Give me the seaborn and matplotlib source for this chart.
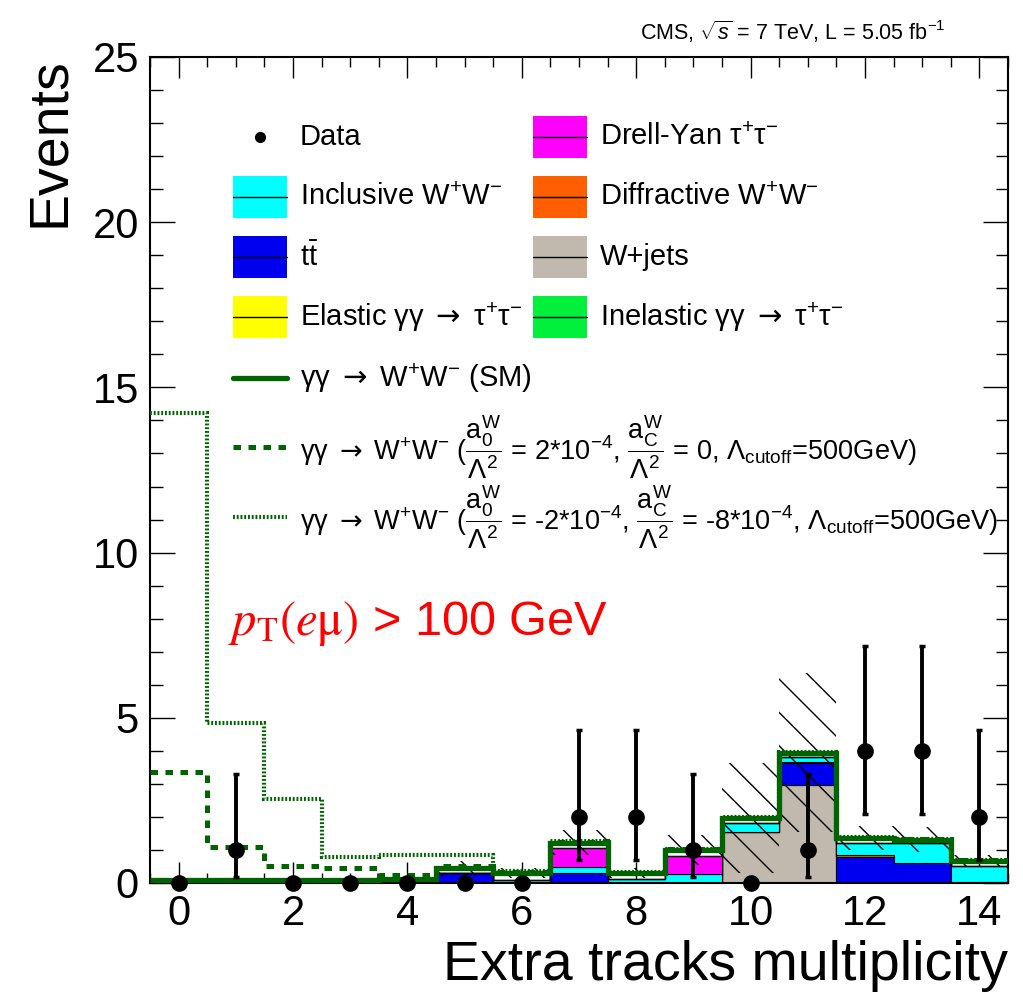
import numpy as np
import pandas as pd
import matplotlib
matplotlib.use("Agg")
import matplotlib.pyplot as plt
from matplotlib.patches import Rectangle
from matplotlib.lines import Line2D
from matplotlib.ticker import MultipleLocator
import seaborn as sns

# ------------------------------------------------------------------
# Extra-track multiplicity, e-mu channel with pT(e mu) > 100 GeV
# ------------------------------------------------------------------
ntrk = np.arange(15)
bin_edges = [x - 0.5 for x in range(16)]

# observed events and their 68% Poisson intervals
data_counts = [0, 1, 0, 0, 0, 0, 0, 2, 2, 1, 0, 1, 4, 4, 2]
data_low = [0, 0.17, 0, 0, 0, 0, 0, 0.71, 0.71, 0.17, 0, 0.17, 2.09, 2.09, 0.71]
data_high = [0, 3.30, 0, 0, 0, 0, 0, 4.64, 4.64, 3.30, 0, 3.30, 7.16, 7.16, 4.64]

# background expectations per bin
wjets = [0, 0, 0, 0, 0, 0, 0, 0, 0, 0, 1.55, 2.96, 0, 0, 0]
ttbar = [0, 0, 0, 0, 0, 0.31, 0, 0.29, 0, 0, 0, 0.66, 0.78, 0.60, 0.02]
diffractive_ww = [0, 0, 0, 0, 0, 0, 0, 0, 0, 0, 0, 0.04, 0.06, 0, 0]
inclusive_ww = [0, 0, 0, 0, 0, 0, 0.10, 0.18, 0.12, 0.27, 0.28, 0.14, 0.38, 0.60, 0.49]
drell_yan_tautau = [0, 0, 0, 0, 0, 0, 0, 0.58, 0, 0.55, 0, 0, 0, 0, 0]
elastic_tautau = [0, 0, 0, 0, 0, 0, 0, 0, 0, 0, 0, 0, 0, 0, 0]
inelastic_tautau = [0, 0, 0, 0, 0, 0, 0, 0, 0, 0, 0, 0, 0, 0, 0]

# gamma gamma -> WW (SM) on top of the backgrounds
sm_aaww = [0.09, 0.08, 0.08, 0.08, 0.13, 0.15, 0.21, 0.17, 0.17, 0.18, 0.13, 0.12, 0.13, 0.10, 0.16]

# total expectation with anomalous quartic couplings
aqgc_a0 = [3.37, 1.10, 0.52, 0.45, 0.24, 0.50, 0.33, 1.25, 0.31, 1.02, 1.98, 3.94, 1.37, 1.32, 0.69]
aqgc_a0_ac = [14.23, 4.83, 2.54, 0.78, 0.85, 0.85, 0.35, 1.27, 0.32, 1.03, 1.99, 3.95, 1.38, 1.33, 0.69]

# systematic uncertainty band on the total expectation
band_low = [0, 0, 0, 0, 0, 0.22, 0.15, 0.85, 0.15, 0.55, 0.30, 1.55, 1.00, 0.95, 0.50]
band_high = [0.15, 0.15, 0.15, 0.15, 0.2, 0.68, 0.45, 1.60, 0.45, 1.45, 3.62, 6.35, 1.72, 1.68, 0.85]

# ------------------------------------------------------------------
components = {
    "W+jets": wjets,
    "ttbar": ttbar,
    "Diffractive WW": diffractive_ww,
    "Inclusive WW": inclusive_ww,
    "Drell-Yan tautau": drell_yan_tautau,
    "Elastic tautau": elastic_tautau,
    "Inelastic tautau": inelastic_tautau,
}
colors = {
    "W+jets": "#C1B9AE",
    "ttbar": "#0000F0",
    "Diffractive WW": "#FF5F00",
    "Inclusive WW": "#00FFFF",
    "Drell-Yan tautau": "#FF00FF",
    "Elastic tautau": "#FFFF00",
    "Inelastic tautau": "#00F03C",
}
DKGREEN = "#006400"

rows = []
for name, vals in components.items():
    for x, v in zip(ntrk, vals):
        rows.append({"ntrk": x, "events": v, "process": name})
df = pd.DataFrame(rows)

sns.set_theme(style="ticks")
plt.rcParams["font.family"] = ["Liberation Sans", "DejaVu Sans"]
plt.rcParams["mathtext.fontset"] = "custom"
plt.rcParams["mathtext.rm"] = "Liberation Sans"
plt.rcParams["mathtext.it"] = "Liberation Sans:italic"
plt.rcParams["mathtext.bf"] = "Liberation Sans:bold"
plt.rcParams["mathtext.sf"] = "DejaVu Sans"
plt.rcParams["hatch.linewidth"] = 1.0
plt.rcParams["axes.edgecolor"] = "black"
plt.rcParams["axes.labelcolor"] = "black"
plt.rcParams["text.color"] = "black"
plt.rcParams["xtick.color"] = "black"
plt.rcParams["ytick.color"] = "black"

W, H = 1023, 994
fig = plt.figure(figsize=(W / 100, H / 100), dpi=100)
ax = fig.add_axes([150 / W, 1 - 883 / H, (1008 - 150) / W, (883 - 57) / H])

# stacked backgrounds (seaborn stacks the first hue level on top)
stack_order = list(components.keys())
sns.histplot(
    data=df, x="ntrk", weights="events", hue="process",
    hue_order=stack_order[::-1], palette=colors,
    multiple="stack", element="step", fill=True, bins=bin_edges,
    alpha=1, edgecolor="black", linewidth=0.8, legend=False, ax=ax, zorder=1,
)

stack_total = np.sum([np.asarray(v) for v in components.values()], axis=0)
sm_total = stack_total + np.asarray(sm_aaww)

# uncertainty band
ax.stairs(band_high, bin_edges, baseline=band_low, fill=True,
          facecolor="none", edgecolor="black", hatch="\\", linewidth=0, zorder=2)

# signal curves
DASHED = (0, (1.5, 1.5))
DOTTED = (0, (0.45, 0.45))
ax.stairs(sm_total, bin_edges, baseline=None, color=DKGREEN, linewidth=3.8, zorder=3)
ax.stairs(aqgc_a0, bin_edges, baseline=None, color=DKGREEN, linewidth=3.6,
          linestyle=DASHED, zorder=3)
ax.stairs(aqgc_a0_ac, bin_edges, baseline=None, color=DKGREEN, linewidth=3.0,
          linestyle=DOTTED, zorder=3)

# data
counts = np.asarray(data_counts, dtype=float)
has = counts > 0
lo = counts - np.asarray(data_low)
hi = np.asarray(data_high) - counts
ax.errorbar(ntrk[has], counts[has], yerr=[lo[has], hi[has]], fmt="none",
            ecolor="black", elinewidth=2.8, capsize=2.5, capthick=2.5, zorder=5)
ax.plot(ntrk, counts, "o", color="black", markersize=11, clip_on=False, zorder=6)

# axes styling
ax.set_xlim(-0.5, 14.5)
ax.set_ylim(0, 25)
ax.xaxis.set_major_locator(MultipleLocator(2))
ax.xaxis.set_minor_locator(MultipleLocator(0.5))
ax.yaxis.set_major_locator(MultipleLocator(5))
ax.yaxis.set_minor_locator(MultipleLocator(1))
ax.tick_params(axis="both", which="both", direction="in", top=True, right=True,
               labelsize=30, width=1.0, pad=8, labelcolor="black")
ax.tick_params(axis="x", which="major", length=15)
ax.tick_params(axis="x", which="minor", length=7)
ax.tick_params(axis="y", which="major", length=18)
ax.tick_params(axis="y", which="minor", length=9)
for s in ax.spines.values():
    s.set_linewidth(1.5)
    s.set_color("black")

ax.set_xlabel("Extra tracks multiplicity", fontsize=40, loc="right", labelpad=4,
              color="black")
ax.set_ylabel("Events", fontsize=40, loc="top", labelpad=12, color="black")

fig.text(945 / W, 1 - 40 / H, r"CMS, $\sqrt{s}$ = 7 TeV, L = 5.05 fb$^{-1}$",
         ha="right", va="baseline", fontsize=15.5)

fig.text(228 / W, 1 - 624 / H, r"$p_{\mathrm{T}}(e\mathrm{\mu})$ > 100 GeV",
         color="red", fontsize=35, ha="left", va="center", math_fontfamily="stix")

# ------------------------------------------------------------------
# legend
def fx(x):
    return x / W


def fy(y):
    return 1 - y / H


BOX_W, BOX_H = 54, 42
ARROW = r"$\mathsf{\rightarrow}$"


def box_entry(x0, yc, color, label, size=21):
    fig.add_artist(Rectangle((fx(x0), fy(yc + BOX_H / 2)), BOX_W / W, BOX_H / H,
                             transform=fig.transFigure, facecolor=color,
                             edgecolor="none", zorder=10))
    fig.add_artist(Line2D([fx(x0), fx(x0 + BOX_W)], [fy(yc), fy(yc)],
                          transform=fig.transFigure, color="black", lw=1.0, zorder=11))
    fig.text(fx(x0 + 67), fy(yc), label, fontsize=size,
             ha="left", va="center", zorder=11)


def line_entry(x0, yc, ls, lw, label, size=21):
    fig.add_artist(Line2D([fx(x0), fx(x0 + BOX_W)], [fy(yc), fy(yc)],
                          transform=fig.transFigure, color=DKGREEN, lw=lw,
                          linestyle=ls, zorder=11))
    fig.text(fx(x0 + 67), fy(yc), label, fontsize=size,
             ha="left", va="center", zorder=11)


c1, c2 = 233, 533
fig.add_artist(Line2D([fx(c1 + BOX_W / 2)], [fy(137)], marker="o", markersize=7,
                      color="black", transform=fig.transFigure, zorder=11))
fig.text(fx(c1 + 67), fy(137), "Data", fontsize=21, ha="left", va="center")
box_entry(c1, 197, colors["Inclusive WW"], r"Inclusive W$^{+}$W$^{-}$")
box_entry(c1, 257, colors["ttbar"], r"t$\bar{\mathrm{t}}$")
box_entry(c1, 317, colors["Elastic tautau"], "Elastic γγ " + ARROW + r" τ$^{+}$τ$^{-}$")
line_entry(c1, 378, "-", 3.8, "γγ " + ARROW + r" W$^{+}$W$^{-}$ (SM)")
line_entry(c1, 447, DASHED, 3.6,
           "γγ " + ARROW + r" W$^{+}$W$^{-}$ ($\dfrac{\mathrm{a}_{0}^{\mathrm{W}}}{\Lambda^{2}}$ = 2*10$^{-4}$, "
           r"$\dfrac{\mathrm{a}_{\mathrm{C}}^{\mathrm{W}}}{\Lambda^{2}}$ = 0, "
           r"$\Lambda_{\mathrm{cutoff}}$=500GeV)", size=19.5)
line_entry(c1, 517, DOTTED, 3.0,
           "γγ " + ARROW + r" W$^{+}$W$^{-}$ ($\dfrac{\mathrm{a}_{0}^{\mathrm{W}}}{\Lambda^{2}}$ = -2*10$^{-4}$, "
           r"$\dfrac{\mathrm{a}_{\mathrm{C}}^{\mathrm{W}}}{\Lambda^{2}}$ = -8*10$^{-4}$, "
           r"$\Lambda_{\mathrm{cutoff}}$=500GeV)", size=19.5)

box_entry(c2, 137, colors["Drell-Yan tautau"], r"Drell-Yan τ$^{+}$τ$^{-}$")
box_entry(c2, 197, colors["Diffractive WW"], r"Diffractive W$^{+}$W$^{-}$")
box_entry(c2, 257, colors["W+jets"], "W+jets")
box_entry(c2, 317, colors["Inelastic tautau"], "Inelastic γγ " + ARROW + r" τ$^{+}$τ$^{-}$")

fig.savefig("out.png", dpi=100)
